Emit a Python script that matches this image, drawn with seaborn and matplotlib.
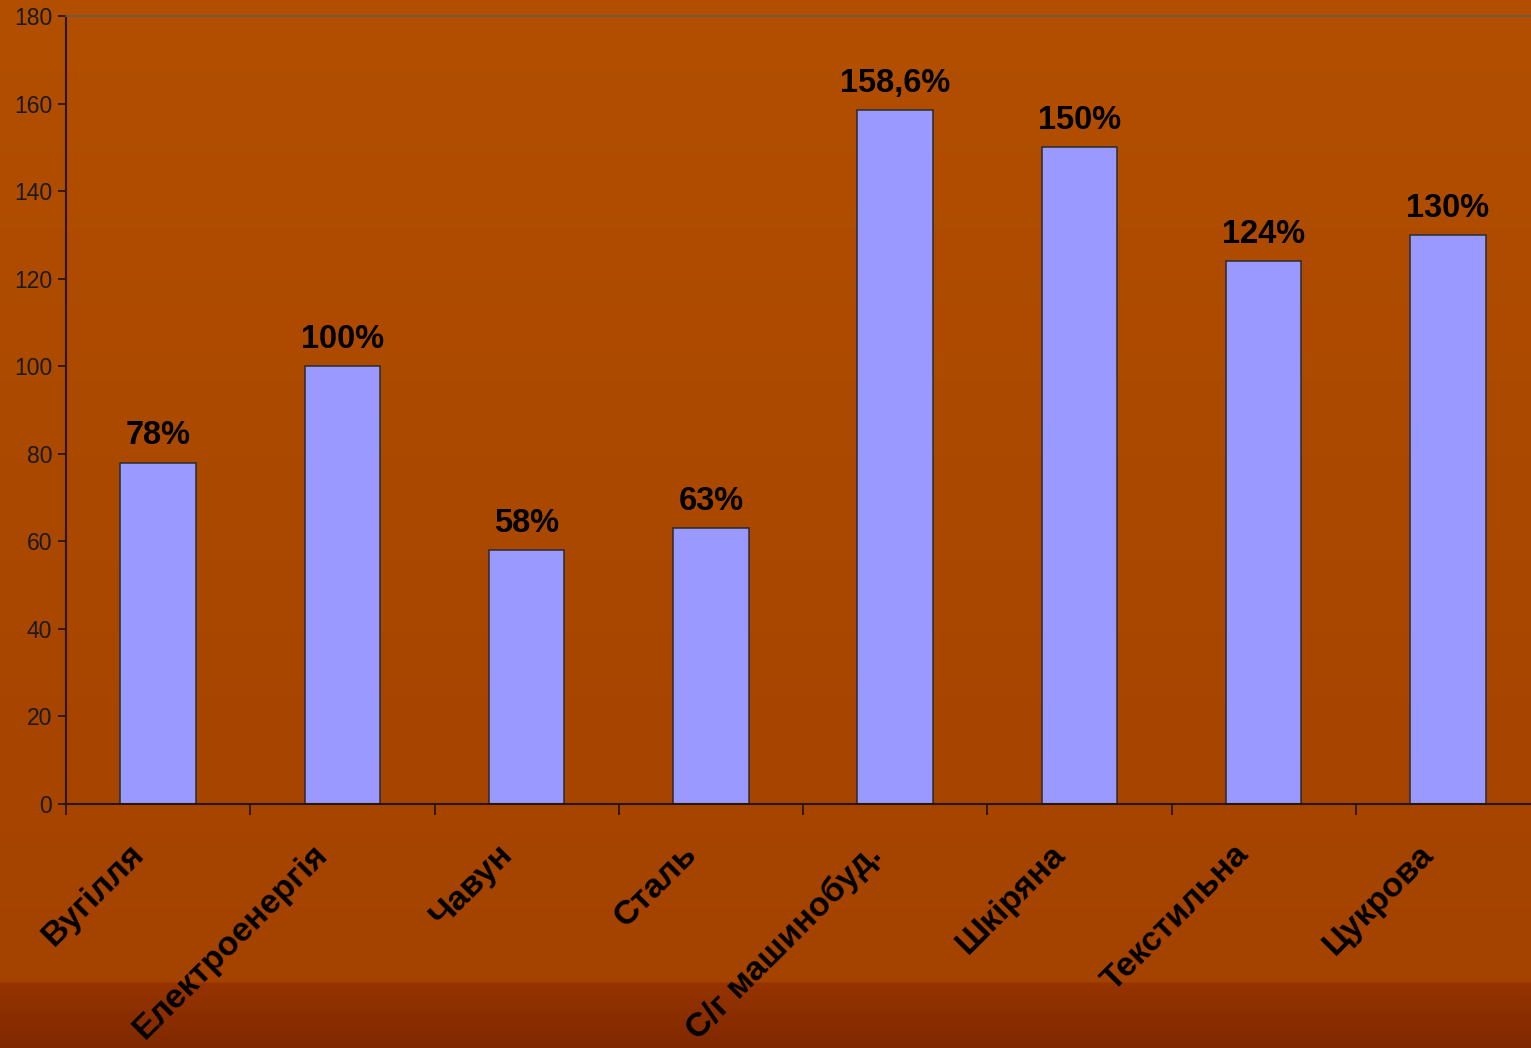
import numpy as np
import pandas as pd
import matplotlib
matplotlib.use("Agg")
import matplotlib.pyplot as plt
import matplotlib.transforms as mtransforms
import seaborn as sns

categories = ["Вугілля", "Електроенергія", "Чавун", "Сталь", "С/г машинобуд.",
              "Шкіряна", "Текстильна", "Цукрова"]
values = [78, 100, 58, 63, 158.6, 150, 124, 130]
value_labels = ["78%", "100%", "58%", "63%", "158,6%", "150%", "124%", "130%"]
yticks = [0, 20, 40, 60, 80, 100, 120, 140, 160, 180]

sns.set_style("white")
plt.rcParams["font.family"] = ["Liberation Sans", "DejaVu Sans"]

W, H = 1531, 1048
fig = plt.figure(figsize=(W / 100, H / 100), dpi=100)

# background gradient
bg = fig.add_axes([0, 0, 1, 1])
bg.set_axis_off()
n = 400
top = np.array([0xB2, 0x4F, 0x00]) / 255
mid = np.array([0xA4, 0x42, 0x00]) / 255
band = np.array([0x96, 0x34, 0x00]) / 255
bot = np.array([0x80, 0x29, 0x00]) / 255
rows = []
for i in range(n):
    f = i / (n - 1)
    yp = f * H
    if yp < 984:
        t = yp / 984
        c = top * (1 - t) + mid * t
    else:
        t = (yp - 984) / (H - 984)
        c = band * (1 - t) + bot * t
    rows.append(c)
grad = np.array(rows)[:, None, :]
bg.imshow(grad, aspect="auto", extent=[0, 1, 0, 1], origin="upper")
bg.set_xlim(0, 1)
bg.set_ylim(0, 1)

ax = fig.add_axes([66 / W, 1 - 804 / H, 1474 / W, 788 / H])
ax.patch.set_alpha(0)

df = pd.DataFrame({"cat": categories, "val": values})
sns.barplot(data=df, x="cat", y="val", ax=ax, color="#9999FF", saturation=1,
            width=0.41, edgecolor="#2b2b2b", linewidth=1.1)

ax.set_xlim(-0.5, len(categories) - 0.5)
ax.set_ylim(0, 180)
ax.set_yticks(yticks)
ax.set_yticklabels([str(v) for v in yticks], fontsize=16.5, color="#1a1a1a")
ax.set_xlabel("")
ax.set_ylabel("")

ax.spines["right"].set_visible(False)
ax.spines["top"].set_color("#6b5a50")
ax.spines["top"].set_linewidth(1.2)
ax.spines["left"].set_color("#2a1608")
ax.spines["bottom"].set_color("#2a1608")
ax.spines["left"].set_linewidth(1.5)
ax.spines["bottom"].set_linewidth(1.5)

ax.tick_params(axis="y", direction="out", length=6, width=1.3, color="#2a1608",
               left=True, pad=4)
ax.set_xticks(np.arange(-0.5, len(categories), 1.0), minor=True)
ax.tick_params(axis="x", which="minor", direction="out", length=8, width=1.3,
               color="#2a1608", bottom=True)
ax.tick_params(axis="x", which="major", length=0, pad=25)
ax.set_xticks(range(len(categories)))
ax.set_xticklabels(categories, rotation=45, ha="right", va="top",
                   rotation_mode="anchor", fontsize=24.5, fontweight="bold",
                   color="black")
shift = mtransforms.ScaledTranslation(-0.30, 0, fig.dpi_scale_trans)
for lbl in ax.get_xticklabels():
    lbl.set_transform(lbl.get_transform() + shift)

for i, (v, lab) in enumerate(zip(values, value_labels)):
    ax.annotate(lab, (i, v), xytext=(0, 13), textcoords="offset points",
                ha="center", va="baseline", fontsize=23.5, fontweight="bold",
                color="black")

fig.savefig("out.png", dpi=100)
